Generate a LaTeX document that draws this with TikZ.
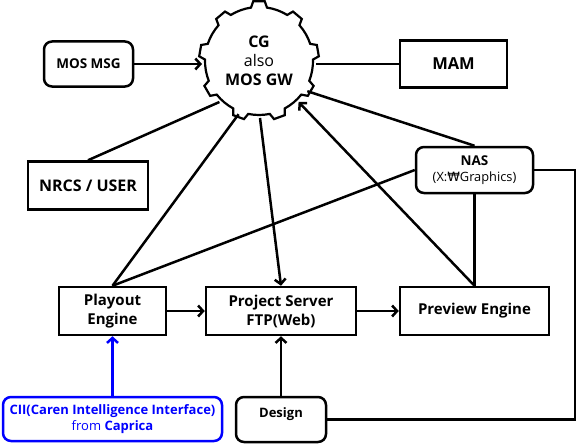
\documentclass[tikz,border=0pt]{standalone}
\usepackage{fontspec}
\setmainfont{Open Sans}
\newfontfamily\wonf{DejaVu Sans}
\usetikzlibrary{arrows.meta}
\begin{document}
\begin{tikzpicture}[x=1pt,y=-1pt,
  line width=2.5pt,
  box/.style={draw, line width=2.5pt, inner sep=0pt, align=center, font=\bfseries\fontsize{15}{19}\selectfont},
  rbox/.style={box, rounded corners=8pt},
  arr/.style={-{Straight Barb[length=5pt,width=11pt,line width=2.5pt]}}]
\useasboundingbox (0,0) rectangle (578,444);
% gear outline
\begin{scope}[shift={(259,61)}, yscale=-1]
 \draw[line width=2.2pt, fill=white] (81.5:54) \foreach \i in {0,...,8}{ -- ({84.5+40*\i}:60) -- ({95.5+40*\i}:60) -- ({98.5+40*\i}:54) arc[start angle={98.5+40*\i}, end angle={121.5+40*\i}, radius=54] } -- cycle;
\end{scope}
\node[circle, minimum size=114, inner sep=0pt, outer sep=0pt, align=center, font=\fontsize{16}{19}\selectfont] (gear) at (259,61) {\textbf{CG}\\also\\\textbf{MOS GW}};

\node[rbox, minimum width=89, minimum height=45, font=\bfseries\fontsize{13.5}{15}\selectfont] (mosmsg) at (88.5,64) {MOS MSG};
\node[box, minimum width=107, minimum height=47, font=\bfseries\fontsize{16.5}{18}\selectfont] (mam) at (453.5,64) {MAM};
\node[box, minimum width=120, minimum height=48, font=\bfseries\fontsize{16}{18}\selectfont] (nrcs) at (88,185.5) {NRCS / USER};
\node[rbox, minimum width=117, minimum height=46, font=\fontsize{12.8}{16}\selectfont] (nas) at (474.5,170) {\textbf{\fontsize{13.5}{16}\selectfont NAS}\\(X:{\wonf ₩}Graphics)};
\node[box, minimum width=107, minimum height=48] (playout) at (112.5,311) {Playout\\Engine};
\node[box, minimum width=150, minimum height=48] (proj) at (281,311) {Project Server\\FTP(Web)};
\node[box, minimum width=149, minimum height=48] (prev) at (474.5,311) {Preview Engine};
\node[rbox, draw=blue, text=blue, minimum width=219, minimum height=44, font=\fontsize{13}{16}\selectfont] (cii) at (112.5,419) {\textbf{CII(Caren Intelligence Interface)}\\from \textbf{Caprica}};
\node[rbox, minimum width=90, minimum height=45, label={[anchor=north, yshift=-7pt, font=\bfseries\fontsize{13}{15}\selectfont]north:Design}] (design) at (281,419.5) {};

\draw[arr] (mosmsg.east) -- (mosmsg.east -| gear.west);
\draw (gear.east |- mam.west) -- (mam.west);
\draw (nrcs.north) -- (gear.226);
\draw (playout.north) -- (gear.249);
\draw[arr] (gear.271) -- (proj.north);
\draw (nas.north) -- (gear.328);
\draw[arr] (prev.north) -- (gear.314);
\draw (nas.south) -- (prev.north);
\draw (nas.west) -- (playout.north);
\coordinate (corner) at (575,170);
\draw (nas.east) -- (corner) |- (design.east);
\draw[arr] (playout.east) -- (proj.west);
\draw[arr] (proj.east) -- (prev.west);
\draw[arr, blue] (cii.north) -- (playout.south);
\draw[arr] (design.north) -- (proj.south);
\end{tikzpicture}
\end{document}
